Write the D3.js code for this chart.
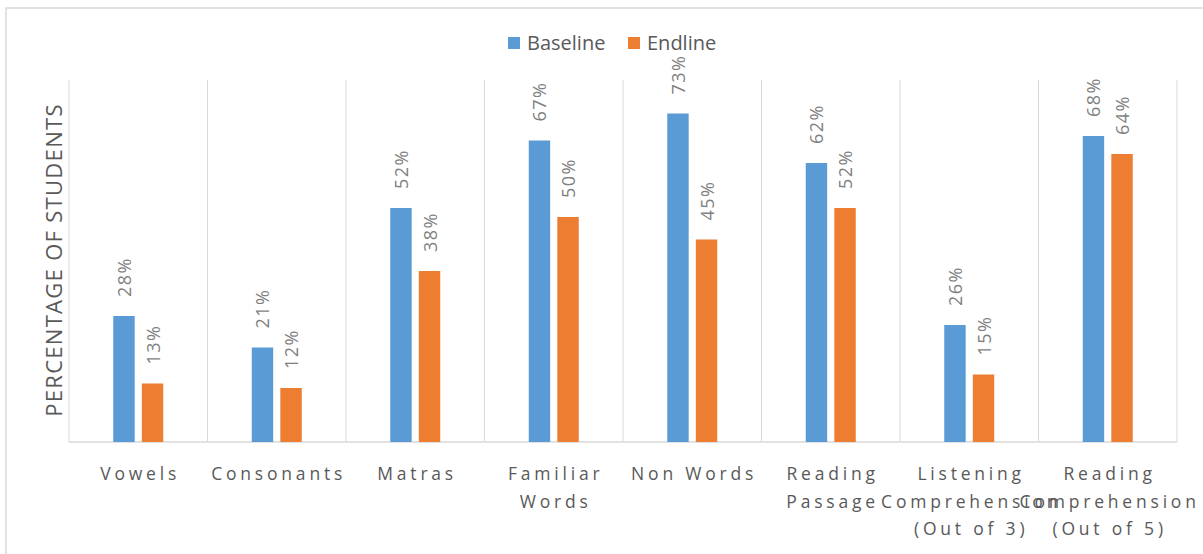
<!DOCTYPE html>
<html>
<head>
<meta charset="utf-8">
<script src="https://cdn.jsdelivr.net/npm/d3@7"></script>
<style>
  html, body { margin: 0; padding: 0; background: #fff; }
  svg { display: block; font-family: "Open Sans", sans-serif; }
</style>
</head>
<body>
<svg id="chart" width="1203" height="554"></svg>
<script>
const categories = [
  ["Vowels"],
  ["Consonants"],
  ["Matras"],
  ["Familiar", "Words"],
  ["Non Words"],
  ["Reading", "Passage"],
  ["Listening", "Comprehension", "(Out of 3)"],
  ["Reading", "Comprehension", "(Out of 5)"],
];
const seriesNames = ["Baseline", "Endline"];
const baseline = [0.28, 0.21, 0.52, 0.67, 0.73, 0.62, 0.26, 0.68];
const endline = [0.13, 0.12, 0.38, 0.50, 0.45, 0.52, 0.15, 0.64];
const COLORS = { Baseline: "#5b9bd5", Endline: "#ed7d31" };

const svg = d3.select("#chart");

// outer chart border (right/bottom run off the picture)
svg.append("rect")
  .attr("x", 6).attr("y", 8)
  .attr("width", 1400).attr("height", 700)
  .attr("fill", "none")
  .attr("stroke", "#d9d9d9")
  .attr("stroke-width", 1.5);

const plot = { left: 69, right: 1177, top: 82, bottom: 442 };

const keys = categories.map((c, i) => i);
const x0 = d3.scaleBand().domain(keys).range([plot.left, plot.right]).padding(0);
const groupW = 50;
const x1 = d3.scaleBand().domain(seriesNames).range([0, groupW]).paddingInner(0.25);
const y = d3.scaleLinear().domain([0, 0.8]).range([plot.bottom, plot.top]);

const rows = keys.map((i) => ({
  i,
  values: [
    { key: "Baseline", v: baseline[i] },
    { key: "Endline", v: endline[i] },
  ],
}));

// vertical gridlines at category boundaries
const bounds = keys.map((i) => x0(i)).concat([plot.right]);
svg.append("g")
  .selectAll("line")
  .data(bounds)
  .join("line")
  .attr("x1", (d) => d).attr("x2", (d) => d)
  .attr("y1", plot.top - 2).attr("y2", plot.bottom)
  .attr("stroke", "#d9d9d9")
  .attr("stroke-width", 1);

// baseline axis
svg.append("line")
  .attr("x1", plot.left).attr("x2", plot.right)
  .attr("y1", plot.bottom).attr("y2", plot.bottom)
  .attr("stroke", "#d9d9d9")
  .attr("stroke-width", 1.5);

// bars
const group = svg.append("g")
  .selectAll("g")
  .data(rows)
  .join("g")
  .attr("transform", (d) => `translate(${x0(d.i) + (x0.bandwidth() - groupW) / 2},0)`);

group.selectAll("rect")
  .data((d) => d.values)
  .join("rect")
  .attr("x", (d) => x1(d.key))
  .attr("width", x1.bandwidth())
  .attr("y", (d) => y(d.v))
  .attr("height", (d) => plot.bottom - y(d.v))
  .attr("fill", (d) => COLORS[d.key]);

// value labels, rotated
group.selectAll("text")
  .data((d) => d.values)
  .join("text")
  .attr("transform", (d) => `translate(${x1(d.key) + x1.bandwidth() / 2},${y(d.v) - 19}) rotate(-90)`)
  .attr("text-anchor", "start")
  .attr("dominant-baseline", "central")
  .attr("font-size", 18)
  .attr("letter-spacing", 1.5)
  .attr("fill", "#7f7f7f")
  .text((d) => Math.round(d.v * 100) + "%");

// category labels
const ls = 3.8;
const tick = svg.append("g")
  .selectAll("text")
  .data(rows)
  .join("text")
  .attr("font-size", 17.5)
  .attr("letter-spacing", ls)
  .attr("fill", "#595959")
  .attr("text-anchor", "middle");

tick.selectAll("tspan")
  .data((d) => categories[d.i].map((line, k) => ({ line, k, cx: x0(d.i) + x0.bandwidth() / 2 })))
  .join("tspan")
  .attr("x", (d) => d.cx + ls / 2)
  .attr("y", (d) => 480 + d.k * 27.5)
  .text((d) => d.line);

// y axis title
svg.append("text")
  .attr("transform", "translate(53,260) rotate(-90)")
  .attr("text-anchor", "middle")
  .attr("dominant-baseline", "central")
  .attr("font-size", 22)
  .attr("letter-spacing", 1.3)
  .attr("fill", "#595959")
  .text("PERCENTAGE OF STUDENTS");

// legend
const legendX = [508, 628];
const legend = svg.append("g")
  .selectAll("g")
  .data(seriesNames)
  .join("g")
  .attr("transform", (d, i) => `translate(${legendX[i]},37)`);

legend.append("rect")
  .attr("width", 12).attr("height", 12)
  .attr("fill", (d) => COLORS[d]);

legend.append("text")
  .attr("x", 19)
  .attr("y", 12.5)
  .attr("font-size", 20)
  .attr("fill", "#595959")
  .text((d) => d);
</script>
</body>
</html>
